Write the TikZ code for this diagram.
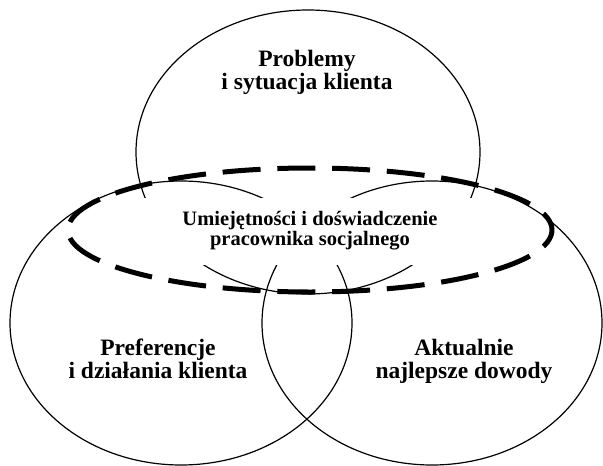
\documentclass[tikz,border=0pt]{standalone}
\usepackage{fontspec}
\setmainfont{Liberation Serif}

\begin{document}
\begin{tikzpicture}[
    x			= 1pt,
    y			= -1pt,
    oval/.style		= {line width = 1.2pt},
    skilloval/.style	= {line width = 5pt, dash pattern = on 38pt off 16.78pt, dash phase = 19pt},
    label/.style		= {align = center, inner sep = 0pt, font = \fontsize{23.5}{23}\selectfont\bfseries},
    skillbox/.style	= {fill = white, inner sep = 0pt, minimum width = 350pt, minimum height = 67pt,
                        align = center, font = \fontsize{20.5}{20}\selectfont\bfseries}
  ]
\useasboundingbox (0,0) rectangle (603,466);
% three ellipses
\draw[oval] (308,152) ellipse [x radius = 172pt, y radius = 142pt];
\draw[oval] (181,323) ellipse [x radius = 171pt, y radius = 142pt];
\draw[oval] (432,323) ellipse [x radius = 170pt, y radius = 142pt];
% middle box
\node[skillbox] (skill) at (310,231) {Umiejętności i doświadczenie\\pracownika socjalnego};
% dashed ellipse
\draw[skilloval] (310,230) ellipse [x radius = 242pt, y radius = 62pt];
% labels
\node[label] (problem) at (307,72) {Problemy\\i sytuacja klienta};
\node[label] (prefer) at (158,359) {Preferencje\\i działania klienta};
\node[label] (evidence) at (464,361) {Aktualnie\\najlepsze dowody};
%
\end{tikzpicture}
\end{document}
